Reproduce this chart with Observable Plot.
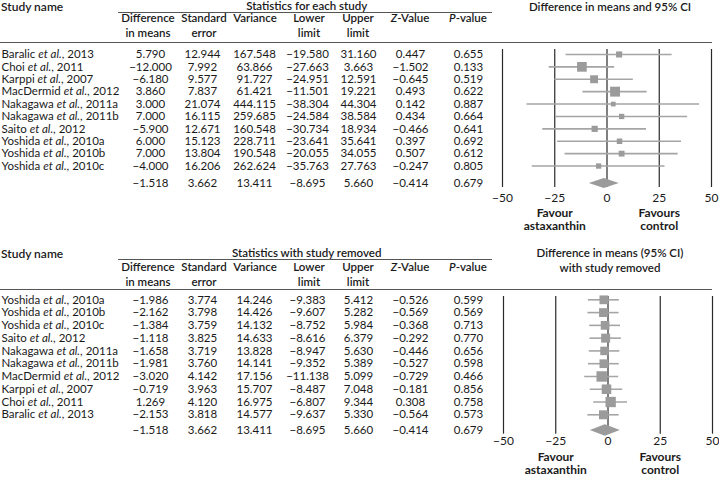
<!DOCTYPE html>
<html><head><meta charset="utf-8">
<script src="https://cdn.jsdelivr.net/npm/d3@7"></script>
<script src="https://cdn.jsdelivr.net/npm/@observablehq/plot@0.6"></script>
<style>
body{margin:0;background:#fff;}
#fig{position:relative;width:719px;height:477px;font-family:Lato,sans-serif;color:#1a1a1a;overflow:hidden;background:#fff}
#fig svg{display:block}
.h{position:absolute;font-size:11.5px;font-weight:600;white-space:nowrap;line-height:14.5px;text-align:center;transform:translateX(-50%)}
.h1{line-height:12px}
.hl{position:absolute;font-size:12px;font-weight:600;white-space:nowrap;line-height:12px;text-align:left}
.rule{position:absolute;height:0;border-top:1px solid #555}
</style></head><body><div id="fig"></div>
<script>
// ---------- data: statistics for each study ----------
const studyEach = ["Baralic et al., 2013","Choi et al., 2011","Karppi et al., 2007","MacDermid et al., 2012","Nakagawa et al., 2011a","Nakagawa et al., 2011b","Saito et al., 2012","Yoshida et al., 2010a","Yoshida et al., 2010b","Yoshida et al., 2010c"];
const diffEach  = [5.790,-12.000,-6.180,3.860,3.000,7.000,-5.900,6.000,7.000,-4.000];
const seEach    = [12.944,7.992,9.577,7.837,21.074,16.115,12.671,15.123,13.804,16.206];
const varEach   = [167.548,63.866,91.727,61.421,444.115,259.685,160.548,228.711,190.548,262.624];
const lowerEach = [-19.580,-27.663,-24.951,-11.501,-38.304,-24.584,-30.734,-23.641,-20.055,-35.763];
const upperEach = [31.160,3.663,12.591,19.221,44.304,38.584,18.934,35.641,34.055,27.763];
const zEach     = [0.447,-1.502,-0.645,0.493,0.142,0.434,-0.466,0.397,0.507,-0.247];
const pEach     = [0.655,0.133,0.519,0.622,0.887,0.664,0.641,0.692,0.612,0.805];
// pooled: difference, SE, variance, lower, upper, Z, P
const pooled    = [-1.518,3.662,13.411,-8.695,5.660,-0.414,0.679];

// ---------- data: statistics with study removed ----------
const studyRemoved = ["Yoshida et al., 2010a","Yoshida et al., 2010b","Yoshida et al., 2010c","Saito et al., 2012","Nakagawa et al., 2011a","Nakagawa et al., 2011b","MacDermid et al., 2012","Karppi et al., 2007","Choi et al., 2011","Baralic et al., 2013"];
const diffRemoved  = [-1.986,-2.162,-1.384,-1.118,-1.658,-1.981,-3.020,-0.719,1.269,-2.153];
const seRemoved    = [3.774,3.798,3.759,3.825,3.719,3.760,4.142,3.963,4.120,3.818];
const varRemoved   = [14.246,14.426,14.132,14.633,13.828,14.141,17.156,15.707,16.975,14.577];
const lowerRemoved = [-9.383,-9.607,-8.752,-8.616,-8.947,-9.352,-11.138,-8.487,-6.807,-9.637];
const upperRemoved = [5.412,5.282,5.984,6.379,5.630,5.389,5.099,7.048,9.344,5.330];
const zRemoved     = [-0.526,-0.569,-0.368,-0.292,-0.446,-0.527,-0.729,-0.181,0.308,-0.564];
const pRemoved     = [0.599,0.569,0.713,0.770,0.656,0.598,0.466,0.856,0.758,0.573];

// ---------- tick labels / text ----------
const xTicks = [-50,-25,0,25,50];
const favourX = [-25, 25];
const favourLabels = ["Favour\nastaxanthin", "Favours\ncontrol"];
const colKeys = ["diff","se","vari","lower","upper","z","p"];
const colHeads = ["Difference\nin means","Standard\nerror","Variance","Lower\nlimit","Upper\nlimit","<i>Z</i>-Value","<i>P</i>-value"];

// layout (pixels)
const colX = [150,202,254,307,358,410,468];
const headX = [148,204,255,309,358,410,468];
const fmt = d3.format(".3f");

function forest(o) {
  const rows = o.names.map((name,i)=>({name, i, diff:o.diff[i], se:o.se[i], vari:o.vari[i], lower:o.lower[i], upper:o.upper[i], z:o.z[i], p:o.p[i]}));
  const sum = {name:"", i:o.sumIdx, diff:pooled[0], se:pooled[1], vari:pooled[2], lower:pooled[3], upper:pooled[4], z:pooled[5], p:pooled[6]};
  const all = [...rows, sum];
  const h = o.dh;
  const diamond = [{x:sum.lower,y:sum.i},{x:sum.diff,y:sum.i-h},{x:sum.upper,y:sum.i},{x:sum.diff,y:sum.i+h}];
  const favour = favourX.map((x,k)=>({x, label:favourLabels[k]}));
  const svg = Plot.plot({
    width:719, height:o.H, marginLeft:o.ML, marginRight:o.MR, marginTop:o.MT, marginBottom:o.MB,
    x:{domain:[-50,50]}, y:{domain:o.yDomain, reverse:true, axis:null}, r:o.rScale,
    style:{fontFamily:"Lato, sans-serif", fontSize:"11.5px", color:"#1a1a1a", background:"white", overflow:"visible"},
    marks:[
      Plot.ruleX(xTicks, {stroke:"#2a2a2a", strokeWidth:1.2}),
      Plot.ruleY(rows, {y:"i", x1:"lower", x2:"upper", stroke:"#a5a5a5", strokeWidth:1.6}),
      Plot.dot(rows, {x:"diff", y:"i", r:o.rOf, symbol:"square", fill:"#9b9b9b"}),
      Plot.line(diamond, {x:"x", y:"y", fill:"#9b9b9b", stroke:"none", curve:"linear-closed"}),
      Plot.axisX({ticks:xTicks, tickSize:0, tickPadding:o.tickPad, label:null, fill:"#1a1a1a", fontSize:12}),
      Plot.text(favour, {x:"x", text:"label", frameAnchor:"bottom", dy:o.favDy, lineAnchor:"top", fontWeight:"bold", fontSize:12, lineHeight:1.12, fill:"#1a1a1a"}),
      Plot.text(all, {y:"i", text:"name", frameAnchor:"left", dx:1-o.ML, textAnchor:"start", fill:"#1a1a1a"}),
      ...colKeys.map((k,j)=>Plot.text(all, {y:"i", text:d=>fmt(d[k]), frameAnchor:"left", dx:colX[j]-o.ML, textAnchor:"middle", fill:"#1a1a1a"}))
    ]
  });
  d3.select(svg).selectAll("text").each(function(){
    const t = this.textContent;
    if (this.childElementCount===0 && t.includes("et al.")) {
      const [a,b] = t.split("et al.");
      this.textContent = "";
      const s = d3.select(this);
      s.append("tspan").text(a);
      s.append("tspan").attr("font-style","italic").text("et al.");
      s.append("tspan").text(b);
    }
  });
  return svg;
}

const fig = document.getElementById("fig");
fig.appendChild(forest({
  names:studyEach, diff:diffEach, se:seEach, vari:varEach, lower:lowerEach, upper:upperEach, z:zEach, p:pEach,
  H:238, ML:502, MR:8, MT:49, MB:51, yDomain:[-0.4,10.73], sumIdx:10.37, dh:0.4,
  rScale:{type:"linear", domain:[0,0.01628], range:[2.2,5.59]}, rOf:d=>1/d.vari,
  tickPad:6, favDy:19.5
}));
fig.appendChild(forest({
  names:studyRemoved, diff:diffRemoved, se:seRemoved, vari:varRemoved, lower:lowerRemoved, upper:upperRemoved, z:zRemoved, p:pRemoved,
  H:239, ML:503, MR:7, MT:58, MB:43.3, yDomain:[-0.26,10.52], sumIdx:10.2, dh:0.45,
  rScale:{type:"linear", domain:[13.8,17.2], range:[4.8,5.9]}, rOf:d=>d.vari,
  tickPad:2.5, favDy:17
}));

// headers (HTML overlay)
function headers(top, group, title, titleTop, lineY, colTop, fullY, oneLineTitle) {
  const add = (cls, html, x, y) => { const d = document.createElement("div"); d.className = cls; d.innerHTML = html; d.style.left = x+"px"; d.style.top = y+"px"; fig.appendChild(d); };
  add("hl", "Study name", 1, top + 1);
  add("h h1", group, 306.7, top);
  add(oneLineTitle ? "h h1" : "h", title, 610, titleTop);
  const r1 = document.createElement("div"); r1.className="rule"; r1.style.left="118px"; r1.style.width="374px"; r1.style.top=lineY+"px"; fig.appendChild(r1);
  const r2 = document.createElement("div"); r2.className="rule"; r2.style.left="0px"; r2.style.width="712px"; r2.style.top=fullY+"px"; fig.appendChild(r2);
  colHeads.forEach((t,j)=>add("h", t.replace("\n","<br>"), headX[j], colTop));
}
headers(0, "Statistics for each study", "Difference in means and 95% CI", 0.5, 12, 11, 42, true);
headers(247, "Statistics with study removed", "Difference in means (95% CI)<br>with study removed", 246, 259, 260, 289, false);
</script></body></html>
